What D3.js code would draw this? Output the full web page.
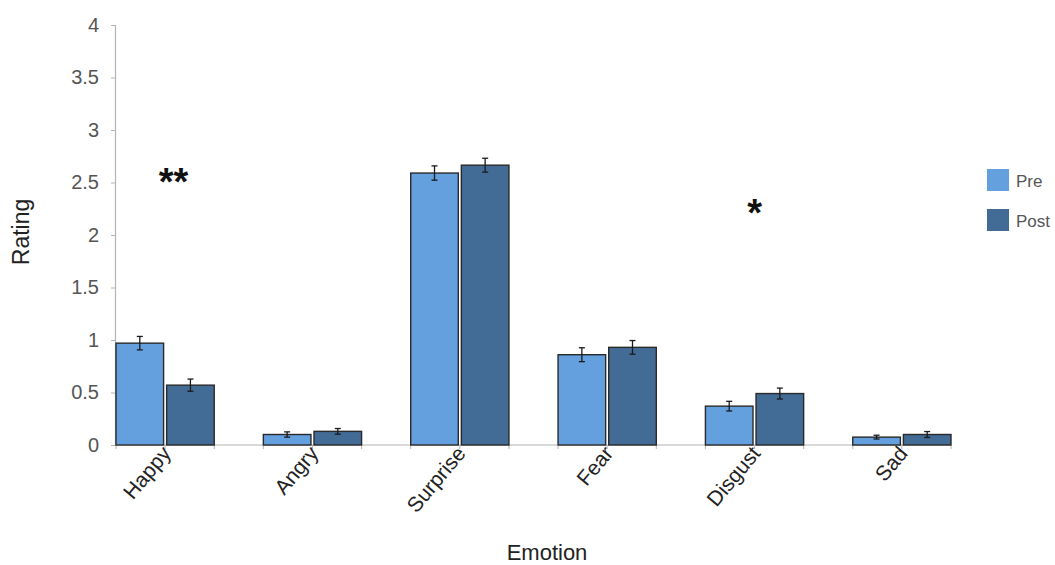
<!DOCTYPE html>
<html>
<head>
<meta charset="utf-8">
<script src="https://cdn.jsdelivr.net/npm/d3@7/dist/d3.min.js"></script>
<style>
  html, body { margin: 0; padding: 0; background: #fff; }
  svg { display: block; font-family: "Liberation Sans", Arial, Helvetica, sans-serif; }
</style>
</head>
<body>
<svg id="chart" width="1055" height="565"></svg>
<script>
// Mean emotion ratings before and after, with standard-error bars
const emotions = ["Happy", "Angry", "Surprise", "Fear", "Disgust", "Sad"];
const phases = ["Pre", "Post"];
const preMeans  = [0.97, 0.10, 2.59, 0.86, 0.37, 0.075];
const postMeans = [0.57, 0.13, 2.665, 0.93, 0.49, 0.10];
const preErr    = [0.064, 0.025, 0.068, 0.066, 0.046, 0.018];
const postErr   = [0.058, 0.027, 0.066, 0.065, 0.052, 0.028];
const yTicks = [0, 0.5, 1, 1.5, 2, 2.5, 3, 3.5, 4];
// significance markers: category, baseline level in rating units, label
const sigCategories = ["Happy", "Disgust"];
const sigLabels = ["**", "*"];
const sigLevels = [2.38, 2.09];

const colors = { Pre: "#64a0dd", Post: "#426b95" };

const svg = d3.select("#chart");
svg.append("rect").attr("width", 1055).attr("height", 565).attr("fill", "#fff");

const y = d3.scaleLinear().domain([0, 4]).range([445, 25]);
const x0 = d3.scaleBand().domain(emotions).range([116, 951])
  .paddingInner(1 / 3).paddingOuter(0);
const x1 = d3.scaleBand().domain(phases).range([0, x0.bandwidth()])
  .paddingInner(0.06).paddingOuter(0);

const rows = emotions.map((e, i) => ({
  emotion: e,
  values: [
    { phase: "Pre", mean: preMeans[i], err: preErr[i] },
    { phase: "Post", mean: postMeans[i], err: postErr[i] }
  ]
}));

// y axis
const yAxis = svg.append("g")
  .attr("transform", "translate(115,0)")
  .call(d3.axisLeft(y).tickValues(yTicks).tickSize(4).tickPadding(12).tickFormat(d3.format("")));
yAxis.select(".domain").attr("stroke", "#b4b4b4").attr("stroke-width", 1.2);
yAxis.selectAll(".tick line").attr("stroke", "#b4b4b4");
yAxis.selectAll(".tick text").attr("fill", "#555").style("font-size", "20px");

// x axis: line with ticks at every bar edge
const xEdges = [];
emotions.forEach(e => {
  xEdges.push(x0(e), x0(e) + x0.bandwidth() / 2, x0(e) + x0.bandwidth());
});
const xAxisG = svg.append("g");
xAxisG.append("line")
  .attr("x1", x0.range()[0]).attr("x2", x0.range()[1])
  .attr("y1", y(0)).attr("y2", y(0))
  .attr("stroke", "#b4b4b4").attr("stroke-width", 1.2);
xAxisG.selectAll("line.tk").data(xEdges).join("line")
  .attr("class", "tk")
  .attr("x1", d => d).attr("x2", d => d)
  .attr("y1", y(0)).attr("y2", y(0) + 4)
  .attr("stroke", "#b4b4b4");

// bars
const groups = svg.append("g").selectAll("g").data(rows).join("g")
  .attr("transform", d => `translate(${x0(d.emotion)},0)`);

groups.selectAll("rect").data(d => d.values).join("rect")
  .attr("x", d => x1(d.phase))
  .attr("y", d => y(d.mean))
  .attr("width", x1.bandwidth())
  .attr("height", d => y(0) - y(d.mean))
  .attr("fill", d => colors[d.phase])
  .attr("stroke", "#2a2a2a")
  .attr("stroke-width", 1.4);

// error bars
const eb = groups.selectAll("g.err").data(d => d.values).join("g").attr("class", "err")
  .attr("transform", d => `translate(${x1(d.phase) + x1.bandwidth() / 2},0)`);
eb.append("line")
  .attr("y1", d => y(d.mean + d.err)).attr("y2", d => y(d.mean - d.err))
  .attr("stroke", "#1a1a1a").attr("stroke-width", 1.3);
eb.selectAll("line.cap").data(d => [d.mean + d.err, d.mean - d.err]).join("line")
  .attr("class", "cap")
  .attr("x1", -3).attr("x2", 3)
  .attr("y1", v => y(v)).attr("y2", v => y(v))
  .attr("stroke", "#1a1a1a").attr("stroke-width", 1.3);

// category labels
svg.append("g").selectAll("text").data(emotions).join("text")
  .attr("transform", d => `translate(${x0(d) + x0.bandwidth() / 2 + 7},454) rotate(-50)`)
  .attr("text-anchor", "end")
  .attr("fill", "#222")
  .style("font-size", "21px")
  .text(d => d);

// significance markers
svg.append("g").selectAll("text").data(sigCategories).join("text")
  .attr("x", (d, i) => x0(d) + (i === 0 ? x1.bandwidth() + 10 : x0.bandwidth() / 2))
  .attr("y", (d, i) => y(sigLevels[i]))
  .attr("text-anchor", "middle")
  .attr("fill", "#111")
  .style("font-size", "38px")
  .style("font-weight", "bold")
  .text((d, i) => sigLabels[i]);

// axis titles
svg.append("text")
  .attr("transform", "translate(29,232) rotate(-90)")
  .attr("text-anchor", "middle")
  .attr("fill", "#222")
  .style("font-size", "23px")
  .text("Rating");
svg.append("text")
  .attr("x", 547).attr("y", 560)
  .attr("text-anchor", "middle")
  .attr("fill", "#222")
  .style("font-size", "22px")
  .text("Emotion");

// legend
const legend = svg.append("g").selectAll("g").data(phases).join("g")
  .attr("transform", (d, i) => `translate(987,${169 + i * 40})`);
legend.append("rect")
  .attr("width", 22).attr("height", 22)
  .attr("fill", d => colors[d]);
legend.append("text")
  .attr("x", 29).attr("y", 18)
  .attr("fill", "#555")
  .style("font-size", "17px")
  .text(d => d);
</script>
</body>
</html>
